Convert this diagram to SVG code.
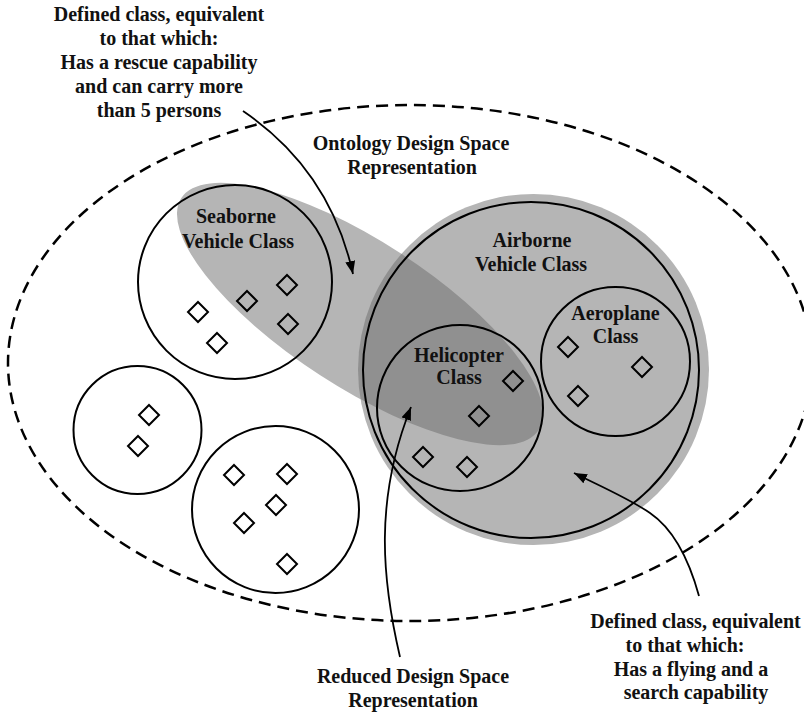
<svg xmlns="http://www.w3.org/2000/svg" width="804" height="713" viewBox="0 0 804 713">
  <style>
    .lbl { font-family: "Liberation Serif", "Times New Roman", serif; font-weight: bold; font-size: 20px; fill: #111; text-anchor: middle; }
    .cls { fill: none; stroke: #000; stroke-width: 2; }
    .item { fill: none; stroke: #000; stroke-width: 2; }
    .conn { fill: none; stroke: #000; stroke-width: 1.8; }
  </style>
  <defs>
    <marker id="arrow" markerUnits="userSpaceOnUse" markerWidth="14" markerHeight="10" refX="13" refY="5" orient="auto">
      <path d="M0,0 L13,5 L0,10 Z" fill="#000"/>
    </marker>
    <clipPath id="airborneArea">
      <circle cx="533.5" cy="369.5" r="175.5"/>
    </clipPath>
    <path id="d" d="M0,-10 L10,0 L0,10 L-10,0 Z"/>
  </defs>

  <rect width="804" height="713" fill="#fff"/>

  <!-- Ontology design space -->
  <g id="ontology-space">
    <ellipse cx="410" cy="363" rx="402" ry="258" fill="none" stroke="#000" stroke-width="2.5" stroke-dasharray="12 7"/>
    <text class="lbl" x="411" y="150">Ontology Design Space</text>
    <text class="lbl" x="412" y="174">Representation</text>
  </g>

  <!-- Defined class: rescue capability, more than 5 persons -->
  <g id="rescue-class">
    <ellipse cx="360" cy="314" rx="213" ry="73" transform="rotate(33 360 314)" fill="#b5b5b5"/>
  </g>

  <!-- Defined class: flying and search capability -->
  <g id="flying-search-class">
    <circle cx="533.5" cy="369.5" r="175.5" fill="#b5b5b5"/>
  </g>

  <!-- Reduced design space (intersection) -->
  <g id="reduced-space" clip-path="url(#airborneArea)">
    <ellipse cx="360" cy="314" rx="213" ry="73" transform="rotate(33 360 314)" fill="#909090"/>
  </g>

  <g id="seaborne">
    <circle class="cls" cx="235" cy="282" r="97"/>
    <text class="lbl" x="236" y="223">Seaborne</text>
    <text class="lbl" x="238" y="248">Vehicle Class</text>
    <use href="#d" class="item" x="287" y="285"/>
    <use href="#d" class="item" x="247" y="301"/>
    <use href="#d" class="item" x="288" y="324"/>
    <use href="#d" class="item" x="198" y="312"/>
    <use href="#d" class="item" x="217" y="343"/>
  </g>

  <g id="class-small">
    <circle class="cls" cx="137.5" cy="430" r="64"/>
    <use href="#d" class="item" x="149" y="415"/>
    <use href="#d" class="item" x="138" y="446"/>
  </g>

  <g id="class-lower">
    <circle class="cls" cx="275.5" cy="509.5" r="83.5"/>
    <use href="#d" class="item" x="234" y="475"/>
    <use href="#d" class="item" x="287" y="474"/>
    <use href="#d" class="item" x="276" y="505"/>
    <use href="#d" class="item" x="244" y="523"/>
    <use href="#d" class="item" x="287" y="564"/>
  </g>

  <g id="airborne">
    <circle class="cls" cx="531" cy="370" r="168"/>
    <text class="lbl" x="532" y="247">Airborne</text>
    <text class="lbl" x="531" y="271">Vehicle Class</text>
  </g>

  <g id="helicopter">
    <circle class="cls" cx="460" cy="408" r="83"/>
    <text class="lbl" x="459" y="362">Helicopter</text>
    <text class="lbl" x="459" y="384">Class</text>
    <use href="#d" class="item" x="513" y="381"/>
    <use href="#d" class="item" x="479" y="416"/>
    <use href="#d" class="item" x="423" y="457"/>
    <use href="#d" class="item" x="467" y="467"/>
  </g>

  <g id="aeroplane">
    <circle class="cls" cx="615.5" cy="361.5" r="74.5"/>
    <text class="lbl" x="615.5" y="320">Aeroplane</text>
    <text class="lbl" x="615.5" y="343">Class</text>
    <use href="#d" class="item" x="568" y="347"/>
    <use href="#d" class="item" x="642" y="367"/>
    <use href="#d" class="item" x="578" y="396"/>
  </g>

  <!-- Annotation labels -->
  <g id="note-rescue">
    <text class="lbl" x="159" y="21">Defined class, equivalent</text>
    <text class="lbl" x="159" y="45">to that which:</text>
    <text class="lbl" x="159" y="69">Has a rescue capability</text>
    <text class="lbl" x="159" y="93">and can carry more</text>
    <text class="lbl" x="159" y="117">than 5 persons</text>
  </g>

  <g id="note-reduced">
    <text class="lbl" x="413" y="683">Reduced Design Space</text>
    <text class="lbl" x="413" y="707">Representation</text>
  </g>

  <g id="note-flying">
    <text class="lbl" x="695.5" y="628">Defined class, equivalent</text>
    <text class="lbl" x="685" y="652">to that which:</text>
    <text class="lbl" x="691" y="676">Has a flying and a</text>
    <text class="lbl" x="696" y="699">search capability</text>
  </g>

  <!-- Connectors -->
  <g id="connectors">
    <path class="conn" d="M243,111 Q330,170 353,274" marker-end="url(#arrow)"/>
    <path class="conn" d="M400,657 C382,580 374,500 411,407" marker-end="url(#arrow)"/>
    <path class="conn" d="M699,596 C688,556 672,528 650,513 C630,499 600,486 574,473" marker-end="url(#arrow)"/>
  </g>
</svg>
